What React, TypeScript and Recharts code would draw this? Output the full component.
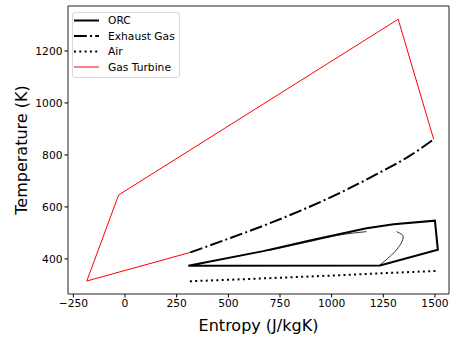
import { Legend, Line, LineChart, ReferenceArea, XAxis, YAxis } from "recharts";

// T-s diagram: ORC loop, exhaust gas, ambient air and the gas turbine cycle
const orcS = [306, 669, 911, 1040, 1169, 1300, 1500, 1514, 1234, 306];
const orcT = [374, 430, 474, 496, 518, 533, 547, 435, 375, 374];

const domeLeftS = [700, 911, 1024, 1100, 1169];
const domeLeftT = [433, 470, 490, 499, 505];
const domeRightS = [1314, 1340, 1346, 1330, 1290, 1234];
const domeRightT = [505, 494, 480, 452, 415, 377];

const exhaustS = [316, 484, 677, 871, 1056, 1218, 1379, 1494];
const exhaustT = [425, 473, 530, 593, 660, 726, 797, 860];

const airS = [314, 700, 1000, 1250, 1510];
const airT = [314, 326, 336, 345, 354];

const gtS = [316, -185, -31, 1322, 1494];
const gtT = [425, 315, 646, 1322, 860];

const xTicks = [-250, 0, 250, 500, 750, 1000, 1250, 1500];
const yTicks = [400, 600, 800, 1000, 1200];

const toRows = (s: number[], t: number[]) => s.map((v, i) => ({ s: v, t: t[i] }));
const minus = (v: number) => (v < 0 ? `\u2212${Math.abs(v)}` : `${v}`);

const font = "'DejaVu Sans', sans-serif";

const legendItems = [
  { name: "ORC", dash: "", color: "#000", width: 2 },
  { name: "Exhaust Gas", dash: "12.8 3.2 2 3.2", color: "#000", width: 2 },
  { name: "Air", dash: "2 3.3", color: "#000", width: 2 },
  { name: "Gas Turbine", dash: "", color: "#ff0000", width: 1 },
];

// legend drawn as svg so its text matches the axis text rendering
function LegendBox() {
  return (
    <svg width={108} height={66} style={{ display: "block" }}>
      <rect x={0.5} y={0.5} width={107} height={65} rx={2.5} fill="rgba(255,255,255,0.8)" stroke="#d9d9d9" />
      {legendItems.map((it, i) => {
        const y = 8.5 + i * 15.5;
        return (
          <g key={it.name}>
            <line x1={2} y1={y} x2={27} y2={y} stroke={it.color} strokeWidth={it.width} strokeDasharray={it.dash} />
            <text x={36} y={y} dy="0.36em" fontSize={10.7} fontFamily={font} fill="#000">
              {it.name}
            </text>
          </g>
        );
      })}
    </svg>
  );
}

export default function App() {
  const tick = { fontSize: 10.7, fill: "#000", fontFamily: font };
  return (
    <div style={{ position: "absolute", left: 0, top: 0, background: "#fff" }}>
      <LineChart width={450} height={337} margin={{ top: 6, right: 1, bottom: 0, left: 0 }}>
        <XAxis
          type="number"
          dataKey="s"
          domain={[-276, 1568]}
          ticks={xTicks}
          tickFormatter={minus}
          allowDataOverflow
          height={43}
          tickSize={3.5}
          tickMargin={2}
          tick={tick}
          axisLine={false}
          tickLine={{ stroke: "#000" }}
          label={{ value: "Entropy (J/kgK)", position: "insideBottom", offset: 6, fontSize: 16, fill: "#000", fontFamily: font }}
        />
        <YAxis
          type="number"
          dataKey="t"
          domain={[265, 1373]}
          ticks={yTicks}
          allowDataOverflow
          width={68}
          tickSize={3.5}
          tickMargin={2}
          tick={tick}
          axisLine={false}
          tickLine={{ stroke: "#000" }}
          label={{ value: "Temperature (K)", angle: -90, position: "center", dx: -12.5, fontSize: 16, fill: "#000", fontFamily: font }}
        />
        <ReferenceArea x1={-276} x2={1568} y1={265} y2={1373} fill="none" stroke="#222" strokeWidth={1} ifOverflow="visible" />
        <Line data={toRows(gtS, gtT)} dataKey="t" name="Gas Turbine" type="linear" stroke="#ff0000" strokeWidth={1} dot={false} isAnimationActive={false} />
        <Line data={toRows(exhaustS, exhaustT)} dataKey="t" name="Exhaust Gas" type="monotone" stroke="#000" strokeWidth={2} strokeDasharray="12.8 3.2 2 3.2" dot={false} isAnimationActive={false} />
        <Line data={toRows(airS, airT)} dataKey="t" name="Air" type="monotone" stroke="#000" strokeWidth={2} strokeDasharray="2 3.3" dot={false} isAnimationActive={false} />
        <Line data={toRows(domeLeftS, domeLeftT)} dataKey="t" name="domeL" legendType="none" type="monotone" stroke="#000" strokeWidth={0.8} dot={false} isAnimationActive={false} />
        <Line data={toRows(domeRightS, domeRightT)} dataKey="t" name="domeR" legendType="none" type="natural" stroke="#000" strokeWidth={0.8} dot={false} isAnimationActive={false} />
        <Line data={toRows(orcS, orcT)} dataKey="t" name="ORC" type="linear" stroke="#000" strokeWidth={2} dot={false} isAnimationActive={false} />
        <Legend
          layout="vertical"
          align="center"
          verticalAlign="middle"
          wrapperStyle={{ left: 72, top: 12, width: "auto" }}
          content={() => <LegendBox />}
        />
      </LineChart>
    </div>
  );
}
